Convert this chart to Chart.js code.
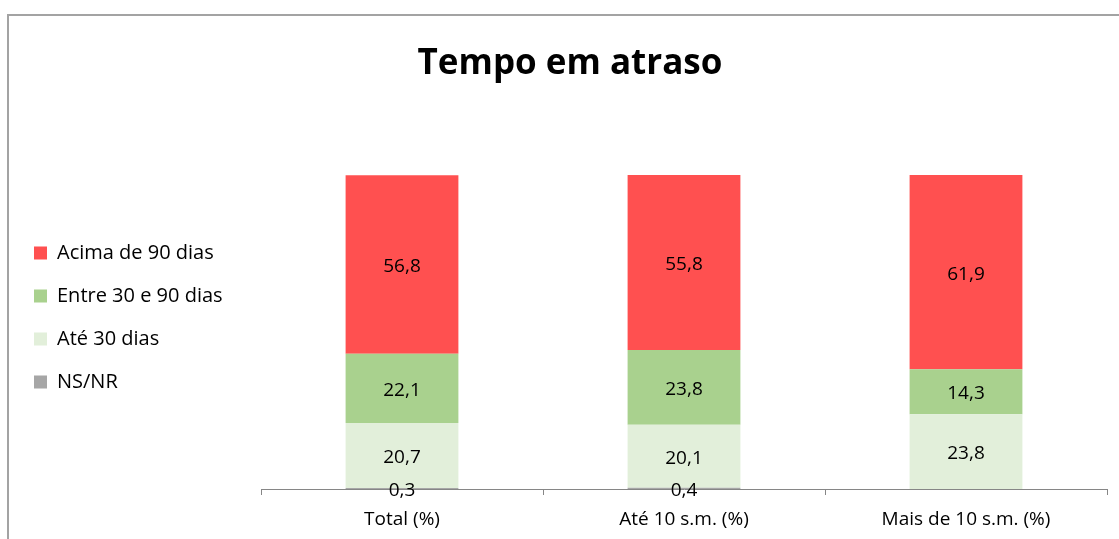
<!DOCTYPE html>
<html>
<head>
<meta charset="utf-8">
<script src="https://cdn.jsdelivr.net/npm/chart.js@4"></script>
<style>
  html, body { margin: 0; padding: 0; background: #fff; overflow: hidden; width: 1119px; height: 539px; }
  #frame { position: absolute; left: 7px; top: 14px; width: 1200px; height: 600px;
           border-top: 2px solid #a3a3a3; border-left: 2px solid #a3a3a3; }
  #chart { position: absolute; left: 0; top: 0; }
</style>
</head>
<body>
<div id="frame"></div>
<canvas id="chart" width="1129" height="615"></canvas>
<script>
// dados do gráfico
const categorias = ['Total (%)', 'Até 10 s.m. (%)', 'Mais de 10 s.m. (%)'];
const nsnr = [0.3, 0.4, 0];
const ate30 = [20.7, 20.1, 23.8];
const entre30e90 = [22.1, 23.8, 14.3];
const acima90 = [56.8, 55.8, 61.9];

// rótulos de valor no meio de cada segmento
const valueLabels = {
    id: 'valueLabels',
    afterDatasetsDraw(chart) {
        const ctx = chart.ctx;
        ctx.save();
        ctx.font = '19px "Open Sans"';
        ctx.fillStyle = '#000';
        ctx.textAlign = 'center';
        ctx.textBaseline = 'middle';
        chart.data.datasets.forEach((ds, i) => {
            const meta = chart.getDatasetMeta(i);
            meta.data.forEach((bar, j) => {
                const v = ds.data[j];
                if (!v) return;
                const p = bar.getProps(['x', 'y', 'base'], true);
                ctx.fillText(v.toFixed(1).replace('.', ','), p.x, (p.y + p.base) / 2 + 2);
            });
        });
        ctx.restore();
    }
};

new Chart(document.getElementById('chart'), {
    type: 'bar',
    data: {
        labels: categorias,
        datasets: [
            { label: 'NS/NR', data: nsnr, backgroundColor: '#a6a6a6' },
            { label: 'Até 30 dias', data: ate30, backgroundColor: '#e2efda' },
            { label: 'Entre 30 e 90 dias', data: entre30e90, backgroundColor: '#a9d18e' },
            { label: 'Acima de 90 dias', data: acima90, backgroundColor: '#ff5050' }
        ]
    },
    options: {
        responsive: false,
        animation: false,
        events: [],
        layout: { padding: { left: 11, right: 0, top: 20, bottom: 0 } },
        datasets: { bar: { categoryPercentage: 1, barPercentage: 0.4 } },
        plugins: {
            title: {
                display: true,
                text: 'Tempo em atraso',
                color: '#000',
                font: { family: '"Open Sans"', size: 35, weight: 'bold', lineHeight: 1.2 },
                padding: { top: 23.5, bottom: 89.5 }
            },
            legend: {
                position: 'left',
                reverse: true,
                align: 'center',
                maxWidth: 245,
                labels: {
                    boxWidth: 13,
                    boxHeight: 13,
                    padding: 23,
                    color: '#000',
                    font: { family: '"Open Sans"', size: 20 }
                }
            },
            tooltip: { enabled: false }
        },
        scales: {
            x: {
                stacked: true,
                grid: { display: true, drawOnChartArea: false, drawTicks: true, tickLength: 6, color: '#868686' },
                border: { display: true, color: '#868686' },
                ticks: { color: '#000', padding: 13, font: { family: '"Open Sans"', size: 19 } },
                afterFit: s => { s.height = 126; }
            },
            y: {
                stacked: true,
                min: 0,
                max: 100,
                ticks: { display: false },
                grid: { display: false },
                border: { display: false },
                afterFit: s => { s.width = Math.max(0, 261 - 11 - s.chart.legend.width); }
            },
            yPad: {
                type: 'linear',
                position: 'right',
                ticks: { display: false },
                grid: { display: false },
                border: { display: false },
                afterFit: s => { s.width = 22; }
            }
        }
    },
    plugins: [valueLabels]
});
</script>
</body>
</html>
